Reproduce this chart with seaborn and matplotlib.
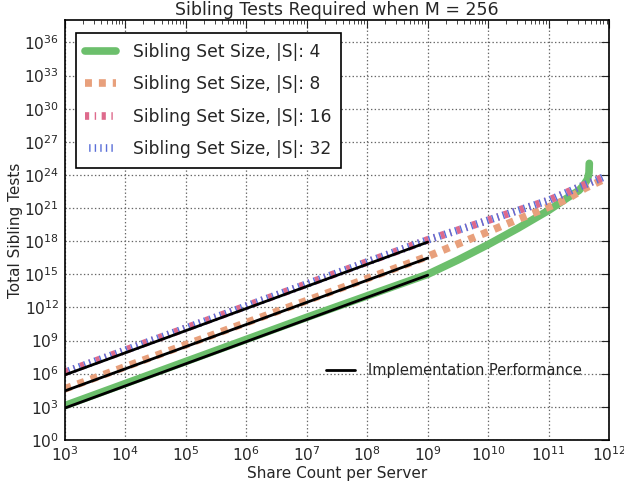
import matplotlib
matplotlib.use("Agg")
import matplotlib.pyplot as plt
import seaborn as sns
import numpy as np
import pandas as pd

# share counts (log10) and total sibling tests (log10)
x_s4 = [3, 4, 5, 6, 7, 8, 9, 9.5, 10, 10.5, 11, 11.3, 11.5, 11.58, 11.64, 11.665, 11.67]
y_s4 = [3.1, 5.1, 7.1, 9.1, 11.1, 13.05, 15.0, 16.3, 17.7, 19.2, 20.8, 21.9, 22.6, 23.1, 23.6, 24.2, 25.05]

x_s8 = [3, 4, 5, 6, 7, 8, 9, 9.5, 10, 10.5, 11, 11.3, 11.6, 11.95]
y_s8 = [4.62, 6.62, 8.62, 10.62, 12.62, 14.62, 16.62, 17.75, 18.86, 20.0, 21.1, 21.8, 22.8, 23.7]

x_s16 = [3, 4, 5, 6, 7, 8, 9, 9.5, 10, 10.5, 11, 11.5, 11.95]
y_s16 = [6.12, 8.12, 10.12, 12.12, 14.12, 16.12, 18.12, 19.0, 19.9, 20.8, 21.7, 22.9, 23.9]

x_s32 = [3, 4, 5, 6, 7, 8, 9, 9.5, 10, 10.5, 11, 11.5, 11.95]
y_s32 = [6.12, 8.12, 10.12, 12.12, 14.12, 16.12, 18.12, 19.0, 19.9, 20.8, 21.7, 22.9, 23.9]

# implementation performance (measured) lines
x_impl = [3, 9]
y_impl_s4 = [2.88, 14.92]
y_impl_s8 = [4.43, 16.47]
y_impl_s32 = [5.88, 17.92]

sns.set_style("white")
plt.rcParams["font.family"] = ["DejaVu Sans"]
plt.rcParams["lines.scale_dashes"] = False
plt.rcParams["mathtext.default"] = "regular"

fig = plt.figure(figsize=(6.24, 4.86), dpi=100)
ax = fig.add_axes([0.1037, 0.0949, 0.8727, 0.8631])


def lin(v):
    return np.power(10.0, np.array(v))


series = [
    (x_s4, y_s4, "#6cbf6c", "-", "Sibling Set Size, |S|: 4"),
    (x_s8, y_s8, "#e8a07c", (0, (5, 5)), "Sibling Set Size, |S|: 8"),
    (x_s16, y_s16, "#de6a8c", (0, (3, 4, 1, 4)), "Sibling Set Size, |S|: 16"),
    (x_s32, y_s32, "#5a6fd8", (1, (1, 3)), "Sibling Set Size, |S|: 32"),
]
for xs, ys, c, ls, lab in series:
    df = pd.DataFrame({"x": lin(xs), "y": lin(ys)})
    sns.lineplot(data=df, x="x", y="y", ax=ax, color=c, lw=5.5, linestyle=ls,
                 label=lab, sort=False, estimator=None)

for ys in [y_impl_s4, y_impl_s8, y_impl_s32]:
    df = pd.DataFrame({"x": lin(x_impl), "y": lin(ys)})
    sns.lineplot(data=df, x="x", y="y", ax=ax, color="black", lw=2,
                 estimator=None, legend=False)
impl_handle = ax.lines[-1]

ax.set_xscale("log")
ax.set_yscale("log")
ax.set_xlim(1e3, 1e12)
ax.set_ylim(1e0, 1e38)
ax.set_xticks([10.0 ** k for k in range(3, 13)])
ax.set_xticklabels(["$10^{%d}$" % k for k in range(3, 13)])
ax.set_yticks([10.0 ** k for k in range(0, 37, 3)])
ax.set_yticklabels(["$10^{%d}$" % k for k in range(0, 37, 3)])
ax.yaxis.set_minor_locator(matplotlib.ticker.NullLocator())
ax.xaxis.set_minor_locator(matplotlib.ticker.LogLocator(base=10, subs=np.arange(2, 10), numticks=100))
ax.tick_params(which="both", direction="in", top=True, right=True, labelsize=11.2, pad=4)
ax.tick_params(which="major", length=6, width=0.8)
ax.tick_params(which="minor", length=3, width=0.6)
for s in ax.spines.values():
    s.set_color("black")
    s.set_linewidth(1.2)

ax.grid(True, which="major", linestyle=":", color="0.4", linewidth=0.9)
ax.set_title("Sibling Tests Required when M = 256", fontsize=12.5, pad=4)
ax.set_xlabel("Share Count per Server", fontsize=11, labelpad=1)
ax.set_ylabel("Total Sibling Tests", fontsize=11, labelpad=1)

handles, labels = ax.get_legend_handles_labels()
leg1 = ax.legend(handles[:4], labels[:4], loc="upper left", fontsize=12.3,
                 frameon=True, fancybox=False, edgecolor="black",
                 handlelength=1.8, handletextpad=1.0, borderpad=0.55,
                 labelspacing=0.85, borderaxespad=0,
                 bbox_to_anchor=(0.02, 0.969))
leg1.get_frame().set_linewidth(1.2)
leg1.get_frame().set_alpha(1)
ax.add_artist(leg1)
ax.legend([impl_handle], ["Implementation Performance"], loc="center left",
          bbox_to_anchor=(0.455, 0.165), frameon=False, fontsize=10.5,
          handlelength=2.0, handletextpad=0.9)

fig.savefig("out.png", dpi=100)
